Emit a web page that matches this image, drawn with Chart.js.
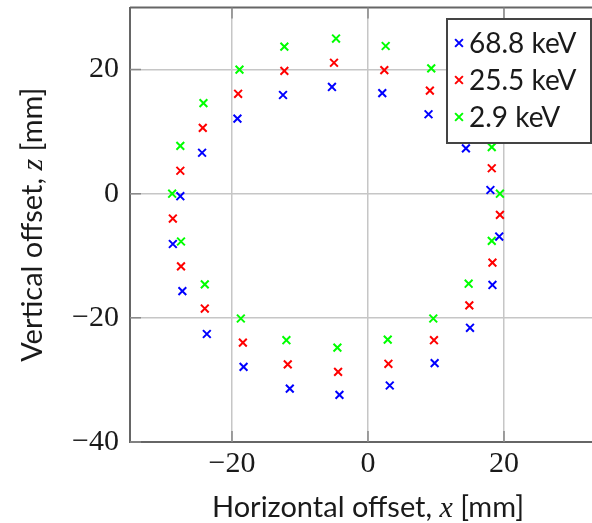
<!DOCTYPE html>
<html>
<head>
<meta charset="utf-8">
<script src="https://cdn.jsdelivr.net/npm/chart.js@4.4.1/dist/chart.umd.min.js"></script>
<style>
  html, body { margin: 0; padding: 0; background: #fff; overflow: hidden; }
  #wrap { position: relative; width: 620px; height: 523px; }
</style>
</head>
<body>
<div id="wrap"><canvas id="offsetChart"></canvas></div>
<script>
// Beam spot offsets per photon energy [mm]
const energies = ['68.8 keV', '25.5 keV', '2.9 keV'];
const colors = ['#0000ff', '#ff0000', '#00ff00'];

const x688 = [-5.3, 2.1, 8.9, 14.4, 18.0, 19.3, 18.3, 15.0, 9.8, 3.2, -4.2, -11.5, -18.3, -23.7, -27.3, -28.7, -27.6, -24.4, -19.2, -12.5];
const z688 = [17.2, 16.2, 12.8, 7.3, 0.6, -6.9, -14.7, -21.6, -27.3, -30.9, -32.4, -31.4, -27.9, -22.6, -15.7, -8.1, -0.4, 6.6, 12.1, 15.9];

const x255 = [-5.0, 2.4, 9.1, 14.6, 18.2, 19.4, 18.3, 14.9, 9.7, 3.0, -4.4, -11.8, -18.4, -24.0, -27.5, -28.7, -27.6, -24.3, -19.1, -12.3];
const z255 = [21.1, 19.9, 16.6, 11.2, 4.1, -3.4, -11.1, -18.0, -23.6, -27.4, -28.7, -27.5, -24.0, -18.5, -11.7, -4.0, 3.7, 10.6, 16.1, 19.8];

const x29 = [-4.7, 2.6, 9.3, 14.7, 18.2, 19.4, 18.2, 14.8, 9.6, 2.9, -4.5, -12.0, -18.7, -24.0, -27.5, -28.8, -27.6, -24.2, -18.9, -12.3];
const z29 = [25.0, 23.8, 20.2, 15.1, 7.5, 0.0, -7.6, -14.5, -20.1, -23.5, -24.8, -23.6, -20.1, -14.6, -7.7, 0.0, 7.7, 14.6, 20.0, 23.7];

const xTicks = [-20, 0, 20];
const yTicks = [-40, -20, 0, 20];

const toPoints = (xs, zs) => xs.map((v, i) => ({ x: v, y: zs[i] }));
const series = [toPoints(x688, z688), toPoints(x255, z255), toPoints(x29, z29)];

// minus sign like in TeX
const fmt = v => (v < 0 ? '\u2212' + Math.abs(v) : String(v));

const labelFont = '29px Lato';
const mathFont = 'italic 30px "Liberation Serif"';

function drawParts(ctx, parts, cx, baseline) {
  const widths = parts.map(p => { ctx.font = p.font; return ctx.measureText(p.text).width; });
  let px = cx - widths.reduce((s, w) => s + w, 0) / 2;
  parts.forEach((p, i) => {
    ctx.font = p.font;
    ctx.fillText(p.text, px, baseline);
    px += widths[i];
  });
}

// box top edge, inward tick marks, titles and legend
const framePlugin = {
  id: 'frame',
  beforeDatasetsDraw(chart) {
    const { ctx, chartArea: a, scales: { x, y } } = chart;
    ctx.save();
    ctx.strokeStyle = '#666';
    ctx.lineWidth = 2;
    ctx.beginPath();
    ctx.moveTo(a.left, a.top);
    ctx.lineTo(a.right, a.top);
    ctx.stroke();

    ctx.strokeStyle = '#8a8a8a';
    ctx.lineWidth = 1.5;
    ctx.beginPath();
    xTicks.forEach(v => {
      const px = x.getPixelForValue(v);
      ctx.moveTo(px, a.bottom); ctx.lineTo(px, a.bottom - 11);
      ctx.moveTo(px, a.top); ctx.lineTo(px, a.top + 11);
    });
    yTicks.forEach(v => {
      const py = y.getPixelForValue(v);
      ctx.moveTo(a.left, py); ctx.lineTo(a.left + 11, py);
    });
    ctx.stroke();
    ctx.restore();
  },
  afterDraw(chart) {
    const { ctx, chartArea: a } = chart;
    ctx.save();
    ctx.fillStyle = '#1a1a1a';
    ctx.textBaseline = 'alphabetic';

    // axis titles
    drawParts(ctx, [
      { text: 'Horizontal offset, ', font: labelFont },
      { text: 'x', font: mathFont },
      { text: ' [mm]', font: labelFont }
    ], (a.left + a.right) / 2, 517);

    ctx.save();
    ctx.translate(42, (a.top + a.bottom) / 2);
    ctx.rotate(-Math.PI / 2);
    drawParts(ctx, [
      { text: 'Vertical offset, ', font: labelFont },
      { text: 'z', font: mathFont },
      { text: ' [mm]', font: labelFont }
    ], 0, 0);
    ctx.restore();

    // legend box in the upper right corner
    const lx = 447, ly = 19, lw = 144, lh = 124;
    ctx.fillStyle = '#fff';
    ctx.fillRect(lx, ly, lw, lh);
    ctx.strokeStyle = '#444';
    ctx.lineWidth = 2;
    ctx.strokeRect(lx, ly, lw, lh);

    ctx.font = '28px Lato';
    ctx.textBaseline = 'middle';
    energies.forEach((name, i) => {
      const ry = 43 + i * 37;
      ctx.strokeStyle = colors[i];
      ctx.lineWidth = 2;
      Chart.helpers.drawPoint(ctx, { pointStyle: 'crossRot', radius: 5.5, borderWidth: 2, rotation: 0 }, 459, ry);
      ctx.fillStyle = '#1a1a1a';
      ctx.fillText(name, 469, ry + 1);
    });
    ctx.restore();
  }
};

new Chart(document.getElementById('offsetChart'), {
  type: 'scatter',
  data: {
    datasets: series.map((pts, i) => ({
      label: energies[i],
      data: pts,
      pointStyle: 'crossRot',
      pointRadius: 5.5,
      pointBorderWidth: 2,
      borderColor: colors[i],
      backgroundColor: colors[i]
    }))
  },
  options: {
    responsive: true,
    maintainAspectRatio: false,
    animation: false,
    layout: { padding: { top: 6, right: 14, left: 0, bottom: 0 } },
    plugins: { legend: { display: false }, tooltip: { enabled: false } },
    scales: {
      x: {
        type: 'linear', min: -35, max: 35,
        afterBuildTicks: s => { s.ticks = xTicks.map(v => ({ value: v })); },
        afterFit: s => { s.height = 81; s.paddingLeft = 0; s.paddingRight = 0; },
        grid: { color: '#c6c6c6', lineWidth: 1.5, drawTicks: false },
        border: { color: '#666', width: 2 },
        ticks: {
          padding: 4, color: '#1a1a1a', maxRotation: 0, autoSkip: false,
          font: { family: 'Liberation Serif', size: 30 },
          callback: fmt
        }
      },
      y: {
        type: 'linear', min: -40, max: 30,
        afterBuildTicks: s => { s.ticks = yTicks.map(v => ({ value: v })); },
        afterFit: s => { s.width = 130; s.paddingTop = 0; s.paddingBottom = 0; },
        grid: { color: '#c6c6c6', lineWidth: 1.5, drawTicks: false },
        border: { color: '#666', width: 2 },
        ticks: {
          padding: 11, color: '#1a1a1a', autoSkip: false,
          font: { family: 'Liberation Serif', size: 30 },
          callback: fmt
        }
      }
    }
  },
  plugins: [framePlugin]
});
</script>
</body>
</html>
